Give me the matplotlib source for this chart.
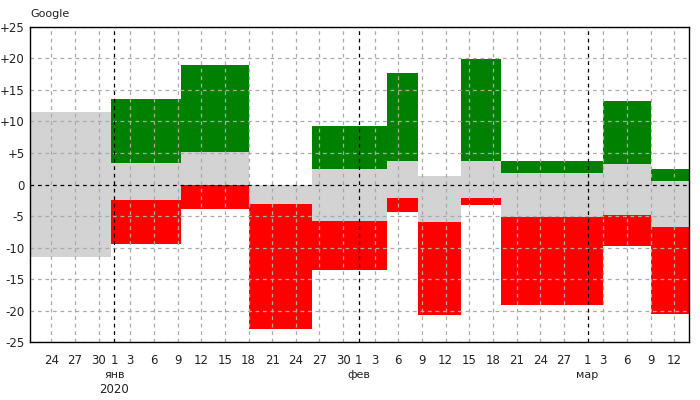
import matplotlib
matplotlib.use("Agg")
import matplotlib.pyplot as plt

# segment edges, in days from 2020-01-01
seg_start = [-10.7, -0.5, 8.5, 17.0, 25.0, 34.5, 38.5, 44.0, 49.0, 62.0, 68.0]
seg_end   = [-0.5, 8.5, 17.0, 25.0, 34.5, 38.5, 44.0, 49.0, 62.0, 68.0, 72.8]
# green range (top, bottom); None if absent
green_top = [None, 13.5, 19.0, None, 9.35, 17.7, None, 19.85, 3.8, 13.3, 2.4]
green_bot = [None, 3.5, 5.1, None, 2.4, 3.8, None, 3.8, 1.9, 3.3, 0.5]
# gray range
gray_top = [11.5, 3.5, 5.1, 0.0, 2.4, 3.8, 1.3, 3.8, 1.9, 3.3, 0.5]
gray_bot = [-11.5, -2.5, 0.0, -3.0, -5.7, -2.2, -5.9, -2.2, -5.2, -4.75, -6.65]
# red range
red_top = [None, -2.5, 0.0, -3.0, -5.7, -2.2, -5.9, -2.2, -5.2, -4.75, -6.65]
red_bot = [None, -9.45, -3.9, -22.9, -13.6, -4.3, -20.7, -3.3, -19.1, -9.7, -20.5]

tick_days = [-8, -5, -2, 0, 2, 5, 8, 11, 14, 17, 20, 23, 26, 29, 31, 33, 36, 39, 42, 45,
             48, 51, 54, 57, 60, 62, 65, 68, 71]
tick_labels = ["24", "27", "30", "1", "3", "6", "9", "12", "15", "18", "21", "24", "27", "30",
               "1", "3", "6", "9", "12", "15", "18", "21", "24", "27", "1", "3", "6", "9", "12"]
month_days = [0, 31, 60]
month_labels = ["янв", "фев", "мар"]
year_day = 0
year_label = "2020"
y_ticks = [25, 20, 15, 10, 5, 0, -5, -10, -15, -20, -25]
y_labels = ["+25", "+20", "+15", "+10", "+5", "0", "-5", "-10", "-15", "-20", "-25"]

fig = plt.figure(figsize=(7, 4), dpi=100)
ax = fig.add_axes([0.043, 0.144, 0.9406, 0.789])

for i in range(len(seg_start)):
    w = seg_end[i] - seg_start[i]
    ax.bar(seg_start[i], gray_top[i] - gray_bot[i], bottom=gray_bot[i], width=w,
           align="edge", color="#d3d3d3", zorder=1)
    if green_top[i] is not None:
        ax.bar(seg_start[i], green_top[i] - green_bot[i], bottom=green_bot[i], width=w,
               align="edge", color="#008000", zorder=1)
    if red_top[i] is not None:
        ax.bar(seg_start[i], red_top[i] - red_bot[i], bottom=red_bot[i], width=w,
               align="edge", color="#ff0000", zorder=1)

ax.set_xlim(-10.7, 72.8)
ax.set_ylim(-25, 25)
ax.set_xticks(tick_days)
ax.set_xticklabels(tick_labels, fontsize=8.5)
ax.set_yticks(y_ticks)
ax.set_yticklabels(y_labels, fontsize=8.5)
ax.tick_params(length=0, pad=8, colors="#222222")
ax.tick_params(axis="y", pad=4)
for d in tick_days:
    if d not in month_days:
        ax.axvline(d, color="#aaaaaa", ls=(0, (3, 3)), lw=0.9, zorder=2)
for v in y_ticks:
    if v != 0:
        ax.axhline(v, color="#aaaaaa", ls=(0, (3, 3)), lw=0.9, zorder=2)
for d in month_days:
    ax.axvline(d, color="black", ls=(0, (3, 3)), lw=0.9, zorder=2)
ax.axhline(0, color="black", ls=(0, (3, 3)), lw=0.9, zorder=2)
tr = ax.get_xaxis_transform()
for d, lab in zip(month_days, month_labels):
    ax.text(d, -0.104, lab, ha="center", va="center", fontsize=8, color="#222222",
            transform=tr)
ax.text(year_day, -0.148, year_label, ha="center", va="center", fontsize=8.5,
        color="#222222", transform=tr)
for s in ax.spines.values():
    s.set_linewidth(1.0)
fig.text(30 / 700, 1 - 14 / 400, "Google", fontsize=8, va="center", ha="left", color="#222222")
fig.savefig("out.png", dpi=100)
